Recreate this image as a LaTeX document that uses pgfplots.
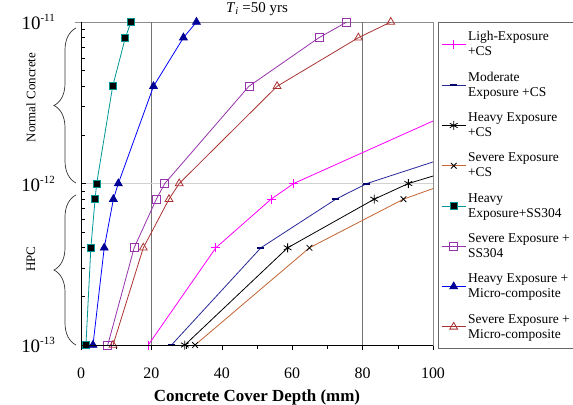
\documentclass[border=0pt]{standalone}
\usepackage{pgfplots}
\pgfplotsset{compat=1.18}
\usepackage{fontspec}
\setmainfont{Liberation Serif}
\usetikzlibrary{decorations.pathreplacing}
\definecolor{cmag}{RGB}{255,0,255}
\definecolor{cnavy}{RGB}{40,40,150}
\definecolor{cnavym}{RGB}{0,0,110}
\definecolor{cbrown}{RGB}{196,100,50}
\definecolor{cteal}{RGB}{0,150,150}
\definecolor{cpurple}{RGB}{150,50,170}
\definecolor{cblue}{RGB}{0,0,255}
\definecolor{cdkblue}{RGB}{0,0,150}
\definecolor{cdkred}{RGB}{170,50,50}
\newcommand{\tenexp}[1]{10\raisebox{0.42em}{\fontsize{11}{11}\selectfont #1}}
\begin{document}
\begin{tikzpicture}
\begin{axis}[
  at={(0,0)}, anchor=south west,
  scale only axis, width=352bp, height=323bp,
  xmin=0, xmax=100, ymode=log, ymin=1e-13, ymax=1e-11,
  xtick={0,20,...,100}, minor xtick={10,30,...,90},
  xtick pos=bottom, ytick pos=left,
  xtick align=outside, ytick align=inside,
  major tick length=5bp, minor tick length=4bp,
  ytick={1e-13,1e-12,1e-11},
  yticklabels={},
  /pgf/number format/assume math mode=true,
  xticklabel style={font=\fontsize{16}{18}\selectfont, anchor=north, yshift=-14bp},
  extra x ticks={20,80}, extra x tick labels={},
  extra x tick style={grid=major, major grid style={draw=black!55, line width=0.8bp}, major tick length=0pt},
  extra y ticks={1e-12}, extra y tick labels={},
  extra y tick style={grid=major, major grid style={draw=black!18, line width=0.8bp}},
  axis line style={draw=black!45, line width=0.8bp},
  tick style={black, line width=0.6bp},
  title={\textit{T}\textsubscript{\textit{i}} =50 yrs},
  title style={font=\fontsize{15}{17}\selectfont, at={(axis description cs:0.5,1)}, anchor=base, yshift=4bp},
  xlabel={Concrete Cover Depth (mm)},
  xlabel style={font=\fontsize{17}{19}\selectfont\bfseries, at={(axis description cs:0.5,0)}, anchor=base, yshift=-56bp},
  legend style={at={(axis description cs:1,1)}, anchor=north west, xshift=5bp,
    font=\fontsize{13.5}{15}\selectfont, draw=black!60, line width=0.6bp,
    row sep=11bp, inner xsep=3bp, inner ysep=7bp,
    cells={align=left, anchor=west, inner sep=1bp}},
  legend cell align=left,
  legend image code/.code={\draw[mark repeat=2,mark phase=2,#1] plot coordinates {(0bp,0bp)(12bp,0bp)(24bp,0bp)};},
  every axis plot/.append style={line width=0.8bp},
]
% Light +CS
\addplot[cmag, mark=+, mark size=4.5bp] coordinates {(19.1,1e-13)(38.3,4e-13)(54.0,8e-13)(60.4,1e-12)};
\addlegendentry{Ligh-Exposure\\+CS}
\addplot[cmag, forget plot] coordinates {(60.4,1e-12)(122,4e-12)};
% Moderate +CS
\addplot[cnavy, mark=-, mark size=3.5bp, mark options={draw=cnavym, line width=2bp}] coordinates {(25.7,1e-13)(51.1,4e-13)(72.4,8e-13)(81.2,1e-12)};
\addlegendentry{Moderate\\Exposure +CS}
\addplot[cnavy, forget plot] coordinates {(81.2,1e-12)(166,4e-12)};
% Heavy +CS
\addplot[black, mark=asterisk, mark size=4.5bp] coordinates {(29.5,1e-13)(58.7,4e-13)(83.3,8e-13)(93.0,1e-12)};
\addlegendentry{Heavy Exposure\\+CS}
\addplot[black, forget plot] coordinates {(93.0,1e-12)(184,4e-12)};
% Severe +CS
\addplot[cbrown, mark=x, mark size=4bp, mark options={draw=black}] coordinates {(32.4,1e-13)(64.9,4e-13)(91.6,8e-13)};
\addlegendentry{Severe Exposure\\+CS}
\addplot[cbrown, forget plot] coordinates {(91.6,8e-13)(104,1e-12)};
% Heavy SS304
\addplot[cteal, mark=square*, mark size=3.5bp, mark options={fill=black, draw=cteal}] coordinates {(1.4,1e-13)(2.8,4e-13)(4.0,8e-13)(4.45,1e-12)(9.0,4e-12)(12.6,8e-12)(14.2,1e-11)};
\addlegendentry{Heavy\\Exposure+SS304}
% Severe SS304
\addplot[cpurple, mark=square, mark size=4bp, mark options={fill=none}] coordinates {(7.6,1e-13)(15.1,4e-13)(21.4,8e-13)(23.8,1e-12)(47.7,4e-12)(67.6,8e-12)(75.5,1e-11)};
\addlegendentry{Severe Exposure +\\SS304}
% Heavy micro
\addplot[cblue, mark=triangle*, mark size=4.5bp, mark options={fill=cdkblue, draw=cdkblue}] coordinates {(3.4,1e-13)(6.6,4e-13)(9.2,8e-13)(10.6,1e-12)(20.6,4e-12)(29.1,8e-12)(32.8,1e-11)};
\addlegendentry{Heavy Exposure +\\Micro-composite}
% Severe micro
\addplot[cdkred, mark=triangle, mark size=4.5bp, mark options={fill=none}] coordinates {(9.1,1e-13)(17.7,4e-13)(25.0,8e-13)(27.9,1e-12)(55.7,4e-12)(78.8,8e-12)(88.0,1e-11)};
\addlegendentry{Severe Exposure +\\Micro-composite}
\end{axis}
\draw[black, line width=0.8bp] (0,323bp) -- (0,0) -- (352bp,0);
\draw[black!45, line width=0.8bp] (-6bp,323bp) -- (0,323bp);
\draw[black!80, line width=0.7bp, decorate, decoration={brace, amplitude=22bp, aspect=0.5}] (-5bp,162bp) -- (-5bp,317bp);
\draw[black!80, line width=0.7bp, decorate, decoration={brace, amplitude=22bp, aspect=0.5}] (-5bp,0bp) -- (-5bp,150bp);
\node[rotate=90, font=\fontsize{13}{15}\selectfont] at (-50bp,247.5bp) {Normal Concrete};
\node[rotate=90, font=\fontsize{13}{15}\selectfont] at (-50bp,86bp) {HPC};
\foreach \yy/\ee in {0/-13, 161.5/-12, 323/-11}
  \node[anchor=east, inner sep=0pt, font=\fontsize{19}{21}\selectfont] at (-26bp,\yy bp) {\tenexp{\ee}};
\pgfresetboundingbox
\path[use as bounding box] (-81bp,-60bp) rectangle (492bp,345bp);
\end{tikzpicture}
\end{document}
